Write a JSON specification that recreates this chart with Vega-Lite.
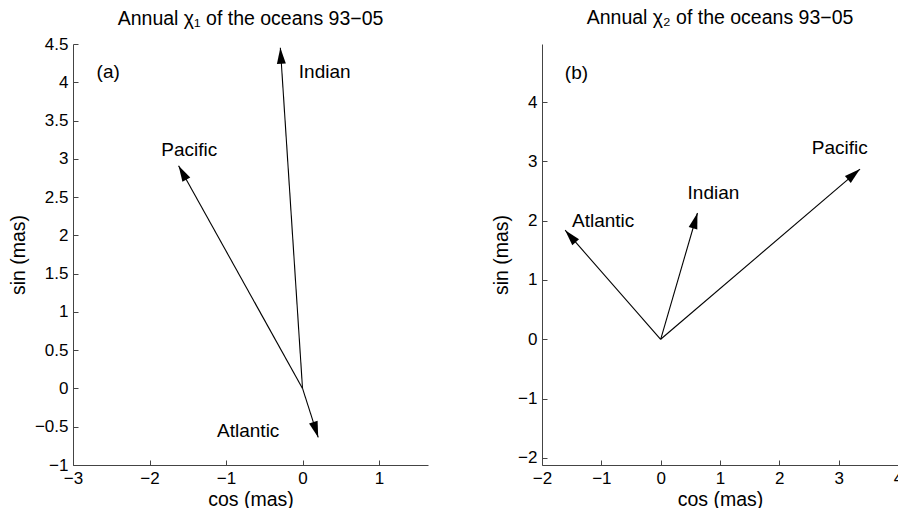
{
  "$schema": "https://vega.github.io/schema/vega-lite/v6.json",
  "padding": {"left": 8, "top": 7, "right": 0, "bottom": 0},
  "spacing": 63,
  "background": "white",
  "config": {
    "view": {"stroke": null},
    "font": "Liberation Sans",
    "axis": {
      "grid": false,
      "domainColor": "#444",
      "tickColor": "#444",
      "tickSize": -5,
      "labelFont": "Liberation Sans",
      "labelFontSize": 17,
      "labelColor": "#000",
      "labelPadding": 10,
      "labelOverlap": false,
      "labelFlush": false,
      "labelExpr": "format(datum.value, '~g')",
      "titleFont": "Liberation Sans",
      "titleFontSize": 19.5,
      "titleFontWeight": "normal",
      "titleColor": "#000",
      "titlePadding": 6
    },
    "axisX": {"titlePadding": 4}
  },
  "datasets": {
    "a_vec": [
      {"ocean": "Indian", "x": -0.29, "y": 4.45},
      {"ocean": "Pacific", "x": -1.62, "y": 2.91},
      {"ocean": "Atlantic", "x": 0.205, "y": -0.64}
    ],
    "a_lab": [
      {"label": "Indian", "x": 0.29, "y": 4.14},
      {"label": "Pacific", "x": -1.48, "y": 3.11},
      {"label": "Atlantic", "x": -0.71, "y": -0.55},
      {"label": "(a)", "x": -2.54, "y": 4.14}
    ],
    "b_vec": [
      {"ocean": "Atlantic", "x": -1.61, "y": 1.84},
      {"ocean": "Indian", "x": 0.62, "y": 2.13},
      {"ocean": "Pacific", "x": 3.36, "y": 2.87}
    ],
    "b_lab": [
      {"label": "Atlantic", "x": -0.97, "y": 2.0},
      {"label": "Indian", "x": 0.89, "y": 2.46},
      {"label": "Pacific", "x": 3.02, "y": 3.23},
      {"label": "(b)", "x": -1.42, "y": 4.49}
    ]
  },
  "hconcat": [
    {
      "width": 355,
      "height": 421,
      "title": {"text": "Annual χ₁ of the oceans 93−05", "font": "Liberation Sans", "fontSize": 19.5, "fontWeight": "normal", "color": "#000", "offset": 6},
      "layer": [
        {
          "data": {"name": "a_vec"},
          "mark": {"type": "rule", "color": "black", "strokeWidth": 1.1},
          "encoding": {
            "x": {"field": "x", "type": "quantitative", "scale": {"domain": [-3, 1.64], "nice": false, "zero": false},
              "axis": {"title": "cos (mas)", "tickCount": 5}},
            "y": {"field": "y", "type": "quantitative", "scale": {"domain": [-1, 4.5], "nice": false, "zero": false},
              "axis": {"title": "sin (mas)", "tickCount": 12}},
            "x2": {"datum": 0},
            "y2": {"datum": 0}
          }
        },
        {
          "data": {"name": "a_vec"},
          "transform": [{"calculate": "atan2(datum.x, datum.y) * 180 / PI", "as": "angle"}],
          "mark": {"type": "point", "shape": "M0,0 L-0.28,1 L0.28,1 Z", "filled": true, "color": "black", "opacity": 1, "size": 1024},
          "encoding": {
            "x": {"field": "x", "type": "quantitative"},
            "y": {"field": "y", "type": "quantitative"},
            "angle": {"field": "angle", "type": "quantitative", "scale": null}
          }
        },
        {
          "data": {"name": "a_lab"},
          "mark": {"type": "text", "fontSize": 19, "font": "Liberation Sans", "color": "black", "align": "center", "baseline": "middle"},
          "encoding": {
            "x": {"field": "x", "type": "quantitative"},
            "y": {"field": "y", "type": "quantitative"},
            "text": {"field": "label"}
          }
        }
      ]
    },
    {
      "width": 356,
      "height": 421,
      "title": {"text": "Annual χ₂ of the oceans 93−05", "font": "Liberation Sans", "fontSize": 19.5, "fontWeight": "normal", "color": "#000", "offset": 16},
      "layer": [
        {
          "data": {"name": "b_vec"},
          "mark": {"type": "rule", "color": "black", "strokeWidth": 1.1},
          "encoding": {
            "x": {"field": "x", "type": "quantitative", "scale": {"domain": [-2, 4], "nice": false, "zero": false},
              "axis": {"title": "cos (mas)", "tickCount": 6}},
            "y": {"field": "y", "type": "quantitative", "scale": {"domain": [-2.12, 4.98], "nice": false, "zero": false},
              "axis": {"title": "sin (mas)", "tickCount": 7}},
            "x2": {"datum": 0},
            "y2": {"datum": 0}
          }
        },
        {
          "data": {"name": "b_vec"},
          "transform": [{"calculate": "atan2(datum.x, datum.y) * 180 / PI", "as": "angle"}],
          "mark": {"type": "point", "shape": "M0,0 L-0.28,1 L0.28,1 Z", "filled": true, "color": "black", "opacity": 1, "size": 1024},
          "encoding": {
            "x": {"field": "x", "type": "quantitative"},
            "y": {"field": "y", "type": "quantitative"},
            "angle": {"field": "angle", "type": "quantitative", "scale": null}
          }
        },
        {
          "data": {"name": "b_lab"},
          "mark": {"type": "text", "fontSize": 19, "font": "Liberation Sans", "color": "black", "align": "center", "baseline": "middle"},
          "encoding": {
            "x": {"field": "x", "type": "quantitative"},
            "y": {"field": "y", "type": "quantitative"},
            "text": {"field": "label"}
          }
        }
      ]
    }
  ]
}
